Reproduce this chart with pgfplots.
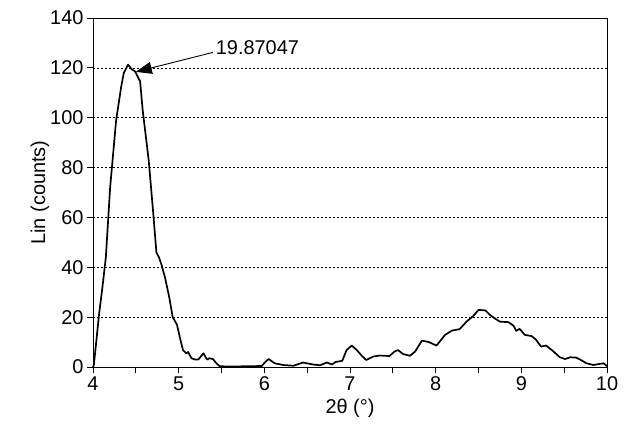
\documentclass[border=0pt]{standalone}
\usepackage{pgfplots}
\pgfplotsset{compat=1.18}
\usepackage{fontspec}
\setmainfont{Liberation Sans}
\usetikzlibrary{arrows.meta}

\pgfplotstableread{
x y
4.00 0
4.01 0.8
4.04 10.8
4.07 20.9
4.11 32
4.15 44
4.20 72
4.27 99
4.33 112.6
4.36 118
4.41 121.3
4.45 119.5
4.49 118.6
4.55 114.6
4.58 103
4.65 83
4.70 63
4.74 46
4.77 44
4.80 41
4.84 36
4.89 28
4.93 20
4.98 17
5.02 11
5.05 6.8
5.09 5.5
5.11 6
5.15 3.5
5.19 3
5.23 3
5.29 5.5
5.33 3
5.36 3.5
5.40 3.2
5.44 1.5
5.48 0.3
5.60 0.2
5.80 0.3
5.97 0.4
6.01 2
6.05 3.2
6.12 1.5
6.22 0.8
6.34 0.5
6.45 1.8
6.57 1
6.65 0.7
6.73 1.8
6.79 1
6.83 2
6.91 2.5
6.96 6.8
7.02 8.6
7.08 6.8
7.14 4.4
7.19 2.8
7.27 4.2
7.35 4.6
7.46 4.4
7.52 6.2
7.56 6.8
7.62 5.2
7.70 4.5
7.76 6.2
7.84 10.6
7.92 10
8.01 8.6
8.11 12.9
8.19 14.6
8.28 15.2
8.36 18.2
8.44 20.5
8.50 22.9
8.58 22.7
8.63 21
8.69 19.5
8.75 18.2
8.85 18
8.91 16.5
8.94 14.5
8.98 15.3
9.04 12.9
9.12 12.4
9.17 11
9.23 8.2
9.29 8.6
9.37 6.4
9.45 3.9
9.51 3.2
9.57 3.9
9.64 3.8
9.68 3.1
9.76 1.5
9.84 0.8
9.96 1.5
10.00 0.3
}\xrd

\begin{document}
\begin{tikzpicture}[x=1bp,y=1bp]
\useasboundingbox (-93,-63) rectangle (534,367);
\begin{axis}[
  at={(0,0)}, anchor=south west,
  scale only axis, width=514bp, height=349bp,
  xmin=4, xmax=10, ymin=0, ymax=140,
  xtick={4,...,10}, minor xtick={4.5,5.5,...,9.5},
  ytick={0,20,...,140},
  tick align=outside, tick pos=left,
  major tick length=6bp, minor tick length=6bp,
  tick style={black, line width=0.8bp},
  axis line style={line width=0.9bp},
  ymajorgrids, grid style={black, line width=0.7bp, dash pattern=on 2bp off 2bp},
  tick label style={font=\fontsize{20}{22}\selectfont},
  label style={font=\fontsize{20}{22}\selectfont},
  /pgf/number format/assume math mode=true,
  xlabel={2θ (°)}, ylabel={Lin (counts)},
  xlabel style={at={([yshift=-41bp]axis description cs:0.5,0)}, anchor=center},
  ylabel style={at={([xshift=-53bp]axis description cs:0,0.5)}, anchor=center},
  clip=false,
]
\addplot[black, line width=1.7bp, line join=round] table[x=x,y=y]{\xrd};
\draw[-{Triangle[length=16bp,width=12bp]}, line width=0.9bp] (axis cs:5.40,126.2) -- (axis cs:4.50,118.4);
\node[anchor=west, inner sep=1bp, font=\fontsize{20}{22}\selectfont] at (axis cs:5.42,128.3) {19.87047};
\end{axis}
\end{tikzpicture}
\end{document}
